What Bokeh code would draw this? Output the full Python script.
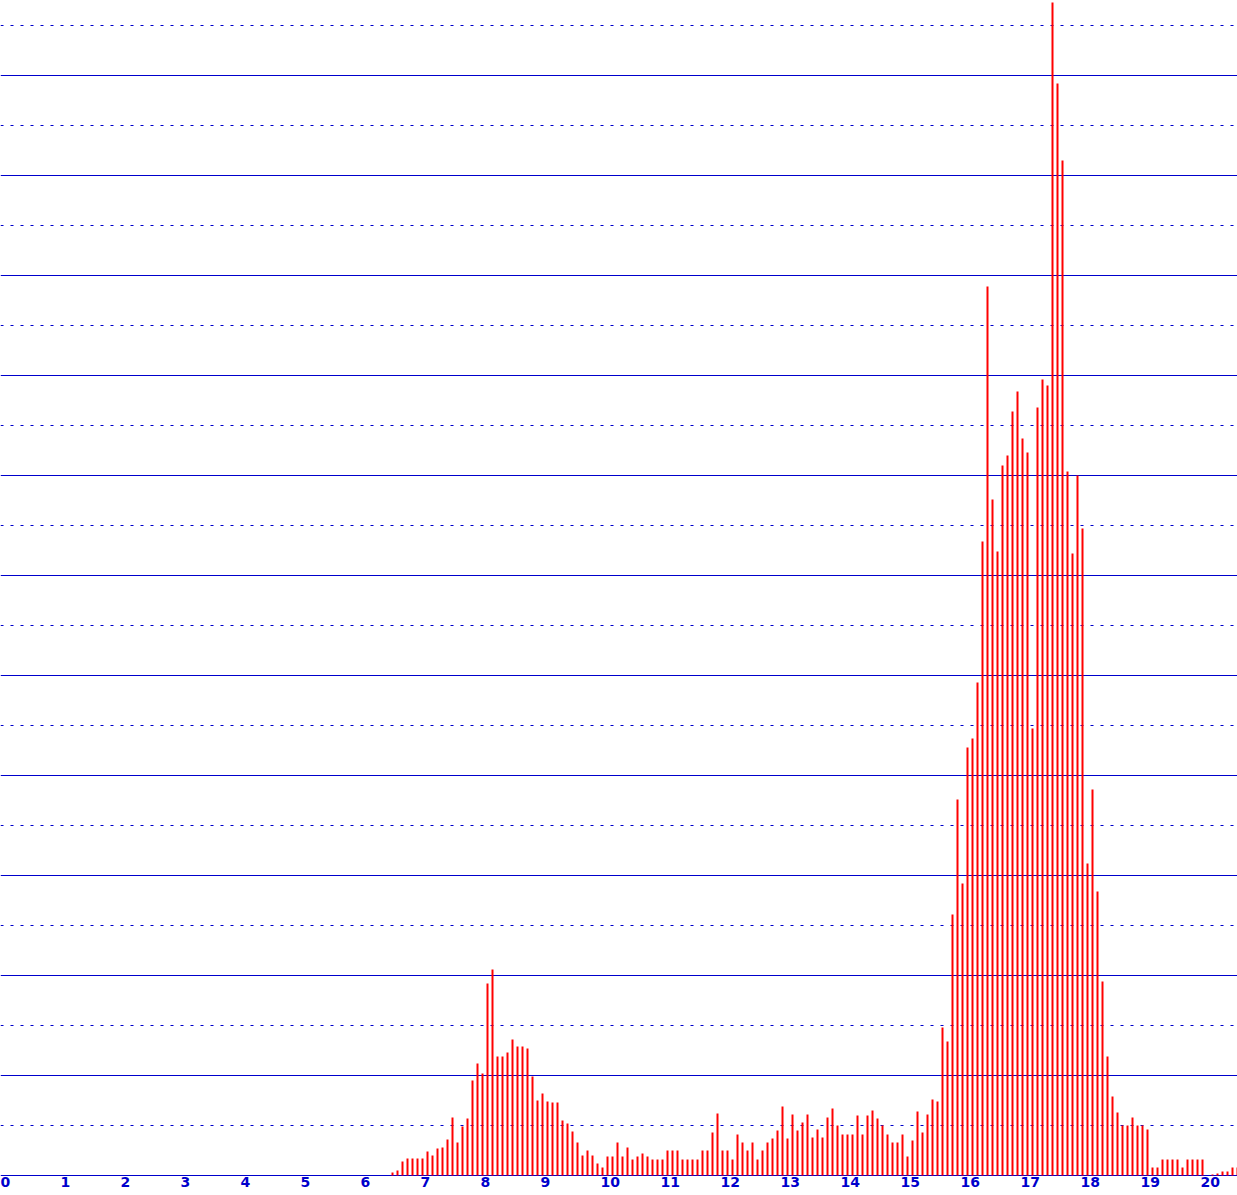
import numpy as np
from bokeh.plotting import figure
from bokeh.models import ColumnDataSource, Grid, FixedTicker, Range1d
from bokeh.core.properties import value
from bokeh.embed import file_html
from bokeh.resources import INLINE

# ---- data ----
first_bin = 6.5          # x of first bar
bin_step = 1 / 12        # spacing between bars
counts = [
    3, 5, 14, 17, 17, 17, 17, 24, 20, 27, 28, 36, 58, 33, 49, 57, 95, 112, 102, 192,
    206, 119, 119, 123, 136, 129, 129, 127, 99, 75, 82, 74, 73, 73, 55, 52, 44, 33,
    20, 25, 20, 12, 8, 19, 19, 33, 19, 28, 16, 19, 22, 19, 16, 16, 16, 25, 25, 25,
    16, 16, 16, 16, 25, 25, 43, 62, 25, 25, 16, 41, 33, 25, 33, 16,
    25, 33, 37, 45, 69, 37, 61, 45, 53, 61, 38, 46, 38, 58, 67, 50, 41, 41, 41, 60,
    41, 60, 65, 57, 50, 41, 33, 33, 41, 19, 35, 64, 43, 61, 76, 74,
    148, 134, 261, 376, 292, 428, 437, 493, 634, 889, 676, 624, 710, 720, 764, 784,
    737, 723, 447, 768, 796, 790, 1173, 1092, 1015, 704, 622, 700, 647, 312,
    386, 284, 194, 119, 79, 63, 50, 50, 58, 50, 50, 46, 8, 8, 16, 16, 16, 16, 8, 16,
    16, 16, 16, 0, 1, 2, 4, 4, 8, 8,
]
tick_values = list(range(0, 21))
tick_labels = [str(v) for v in tick_values]
major_grid = list(range(0, 1101, 100))
minor_grid = list(range(50, 1151, 100))

xs = first_bin + np.arange(len(counts)) * bin_step

BLUE = "#0000cc"
W, H = 1237, 1195
px_per_unit = 60.0

p = figure(width=W, height=H, output_backend="svg", toolbar_location=None,
           x_axis_location=None, y_axis_location=None,
           min_border_left=0, min_border_right=0, min_border_top=0, min_border_bottom=0,
           x_range=Range1d(0, W / px_per_unit), y_range=Range1d(-20, 1175))
p.outline_line_color = None
p.background_fill_color = "white"
p.border_fill_color = "white"
p.center = [r for r in p.center if not isinstance(r, Grid)]

g1 = Grid(dimension=1, ticker=FixedTicker(ticks=major_grid),
          grid_line_color=BLUE, grid_line_width=1)
g2 = Grid(dimension=1, ticker=FixedTicker(ticks=minor_grid),
          grid_line_color=BLUE, grid_line_width=1, grid_line_dash="3 7")
p.add_layout(g1)
p.add_layout(g2)

src = ColumnDataSource(dict(x=xs + 2 / px_per_unit, top=counts))
p.vbar(x="x", top="top", bottom=0, width=2 / px_per_unit, source=src,
       fill_color="#ff0000", line_color=None)

lab_src = ColumnDataSource(dict(x=tick_values, y=[0] * len(tick_values), text=tick_labels))
p.text(x="x", y="y", text="text", source=lab_src,
       text_align="left", text_baseline="top", y_offset=1,
       text_color=BLUE, text_font=value("DejaVu Sans"), text_font_style="bold",
       text_font_size="14px")

open("out.html", "w").write(file_html(p, INLINE))
